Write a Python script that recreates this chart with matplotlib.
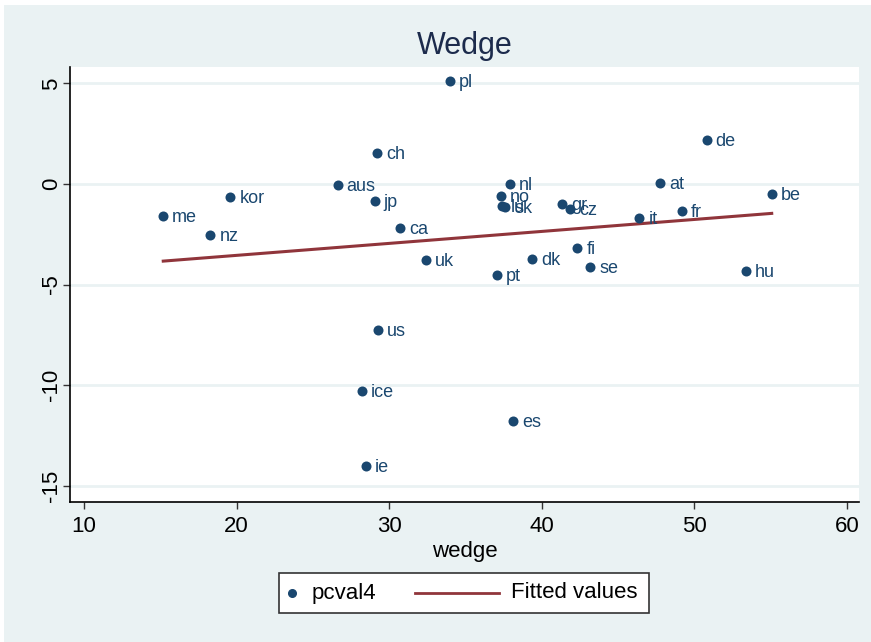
import numpy as np
import matplotlib
matplotlib.use("Agg")
import matplotlib.pyplot as plt
from matplotlib.lines import Line2D
from matplotlib.patches import Rectangle

plt.rcParams['font.family'] = ['Liberation Sans', 'DejaVu Sans']

# country codes, tax wedge and pcval4
countries = ["pl", "de", "ch", "nl", "at", "aus", "be", "kor", "no", "jp",
             "gr", "lu", "sk", "cz", "it", "fr", "me", "ca", "nz", "fi",
             "dk", "uk", "se", "hu", "pt", "us", "ice", "es", "ie"]
wedge = [33.98, 50.8, 29.2, 37.92, 47.78, 26.62, 55.07, 19.59, 37.33, 29.05,
         41.34, 37.4, 37.6, 41.87, 46.4, 49.16, 15.19, 30.7, 18.28, 42.33,
         39.37, 32.4, 43.18, 53.36, 37.07, 29.25, 28.2, 38.12, 28.46]
pcval4 = [5.11, 2.18, 1.54, 0.0, 0.05, -0.05, -0.5, -0.65, -0.6, -0.84,
          -0.99, -1.1, -1.15, -1.24, -1.69, -1.34, -1.59, -2.18, -2.53, -3.18,
          -3.72, -3.77, -4.12, -4.32, -4.52, -7.25, -10.28, -11.77, -14.0]

navy = "#1a476f"
maroon = "#90353b"
bg = "#eaf2f3"

fig = plt.figure(figsize=(8.71, 6.42), dpi=100, facecolor=bg)
ax = fig.add_axes([0.0804, 0.2181, 0.9058, 0.6775])
ax.set_facecolor("white")

# horizontal grid
for yt in [5, 0, -5, -10, -15]:
    ax.axhline(yt, color=bg, lw=2, zorder=0)

ax.scatter(wedge, pcval4, s=52, color=navy, zorder=3, linewidths=0)
for c, x, y in zip(countries, wedge, pcval4):
    ax.annotate(c, (x, y), xytext=(6.5, -1), textcoords="offset points",
                va="center", ha="left", fontsize=13, color=navy)

# linear fit
slope, icpt = np.polyfit(wedge, pcval4, 1)
xf = np.array([min(wedge), max(wedge)])
ax.plot(xf, icpt + slope * xf, color=maroon, lw=2.2, zorder=2)

ax.set_xlim(9.08, 60.79)
ax.set_ylim(-15.8, 5.81)
ax.set_xticks([10, 20, 30, 40, 50, 60])
ax.set_yticks([5, 0, -5, -10, -15])
ax.set_yticklabels(["5", "0", "-5", "-10", "-15"], rotation=90, va="center")
ax.tick_params(axis="both", direction="out", length=5, width=1,
               color="#333333", labelsize=16)
ax.tick_params(axis="y", pad=1)
ax.tick_params(axis="x", pad=5)
for s in ["top", "right"]:
    ax.spines[s].set_visible(False)
for s in ["left", "bottom"]:
    ax.spines[s].set_color("black")
    ax.spines[s].set_linewidth(1.2)

ax.set_xlabel("wedge", fontsize=16, labelpad=3)
fig.text(0.534, 0.929, "Wedge", ha="center", va="center", fontsize=22,
         color="#1c2b4c")

# legend box
fig.patches.append(Rectangle((279 / 871, 1 - 613 / 642), 370 / 871, 40 / 642,
                             transform=fig.transFigure, facecolor="white",
                             edgecolor="#333333", lw=1.2))
ly = 1 - 593 / 642
fig.add_artist(Line2D([292 / 871], [ly], marker="o", ms=5.5, color=navy,
                      transform=fig.transFigure))
fig.text(312 / 871, ly, "pcval4", va="center", ha="left", fontsize=16)
fig.add_artist(Line2D([415 / 871, 499 / 871], [ly, ly], color=maroon, lw=2,
                      transform=fig.transFigure))
fig.text(511 / 871, ly, "Fitted values", va="center", ha="left", fontsize=16)

# thin white border at top and left
fig.patches.append(Rectangle((0, 1 - 5 / 642), 1, 5 / 642,
                             transform=fig.transFigure, facecolor="white", lw=0))
fig.patches.append(Rectangle((0, 0), 4 / 871, 1,
                             transform=fig.transFigure, facecolor="white", lw=0))

fig.savefig("out.png", dpi=100, facecolor=bg)
